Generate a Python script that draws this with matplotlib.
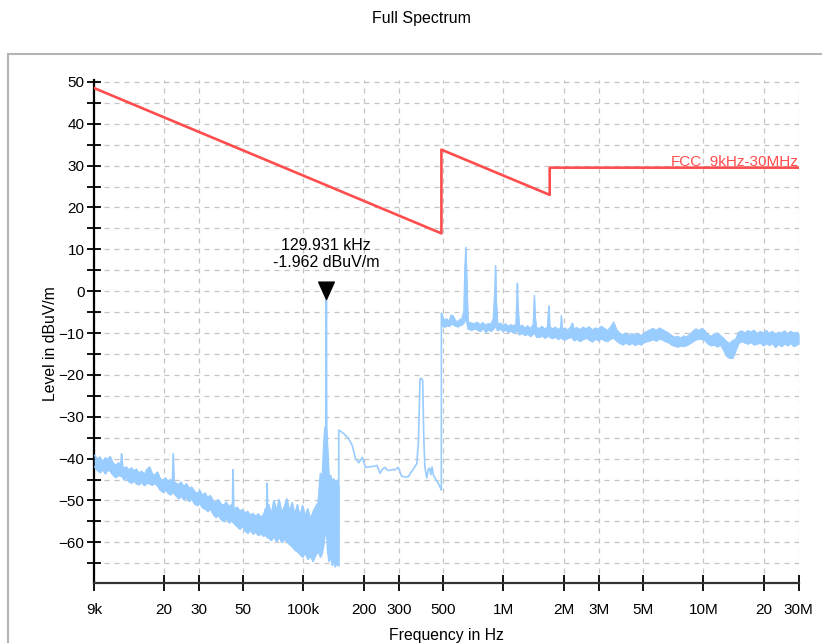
import numpy as np
import matplotlib
matplotlib.use('Agg')
from matplotlib import pyplot as plt
from matplotlib.path import Path
from matplotlib.patches import Rectangle
from matplotlib.ticker import NullLocator

plt.rcParams['font.family'] = ['Liberation Sans', 'DejaVu Sans']

RED = '#ff4d4d'
BLUE = '#99ccff'

# FCC 15.209 limit line (kHz, dBuV/m)
limitF = [9, 490, 490, 1705, 1705, 30000]
limitL = [48.5, 13.8, 33.8, 23.0, 29.5, 29.5]

# 9k - 150k band, upper / lower edge of the noise (kHz, dBuV/m)
bandAF = [9.05, 9.3, 9.6, 9.9, 10.2, 10.5, 10.8, 11.1, 11.5, 11.9, 12.2, 12.3, 12.45,
          12.6, 13.0, 13.4, 13.8, 14.2, 14.6, 15.0, 15.5, 16.0, 16.5, 17.0, 17.5, 18.0,
          18.6, 19.2, 19.8, 20.4, 21.0, 21.6, 22.1, 22.3, 22.5, 23.0, 23.7, 24.4, 25.2,
          26.0, 26.8, 27.6, 28.5, 29.4, 30.3, 31.2, 32.2, 33.2, 34.2, 35.3, 36.4, 37.5,
          38.7, 39.9, 41.1, 42.4, 43.6, 44.1, 44.4, 44.7, 45.2, 46.6, 48.0, 49.5, 51.0,
          52.6, 54.2, 55.9, 57.6, 59.4, 61.2, 63.1, 64.5, 65.3, 65.7, 66.1, 67.0, 69.0,
          71.1, 73.3, 75.5, 77.8, 80.2, 82.6, 85.1, 87.7, 90.4, 93.2, 96.0, 98.9, 101.9,
          105.0, 108.2, 111.5, 114.9, 118.4, 121.5, 124.0, 126.5, 128.0, 129.5, 129.931,
          130.4, 132.0, 134.0, 136.5, 139.0, 141.5, 144.0, 146.5, 149.0, 150.0]
bandAHi = [-39.2, -40.3, -39.6, -40.8, -39.8, -40.2, -39.5, -40.9, -41.6, -41.0, -41.5, -38.8, -41.8,
           -42.3, -42.0, -42.8, -42.2, -43.0, -42.5, -43.5, -43.0, -43.8, -42.6, -42.0, -43.6, -44.0,
           -43.2, -44.8, -45.2, -44.6, -45.5, -45.0, -45.4, -38.8, -45.6, -45.8, -46.3, -45.6, -46.7,
           -46.0, -47.2, -46.8, -47.8, -48.4, -47.6, -48.8, -48.2, -49.4, -48.8, -50.0, -50.5, -49.8,
           -50.8, -51.2, -50.4, -51.5, -51.0, -51.3, -42.6, -51.6, -52.0, -51.6, -52.5, -52.2, -53.0,
           -52.6, -53.5, -53.1, -53.8, -53.2, -54.0, -53.5, -52.0, -52.5, -45.9, -52.4, -51.0, -53.5,
           -50.0, -52.5, -49.8, -53.0, -51.5, -49.6, -52.8, -50.5, -53.5, -51.0, -54.0, -51.2, -53.8,
           -52.0, -54.5, -52.8, -51.5, -50.5, -43.5, -45.0, -36.0, -32.5, -33.0, -1.962,
           -32.6, -38.0, -44.5, -44.0, -45.5, -44.8, -46.0, -45.2, -47.0, -46.5]
bandALo = [-42.0, -42.8, -43.3, -42.5, -43.6, -42.6, -43.0, -43.8, -44.5, -43.9, -44.2, -44.0, -44.4,
           -45.0, -44.6, -45.5, -45.8, -45.2, -46.0, -46.2, -45.6, -46.4, -45.8, -46.0, -46.3, -45.8,
           -46.5, -47.5, -48.0, -47.4, -48.2, -48.6, -48.0, -47.9, -48.3, -48.8, -49.5, -48.9, -49.8,
           -49.2, -50.2, -49.5, -50.8, -51.2, -50.6, -51.7, -52.0, -52.6, -51.9, -53.2, -54.0, -53.5,
           -54.5, -55.0, -54.2, -55.3, -54.8, -55.1, -55.0, -55.3, -55.6, -56.2, -56.8, -56.0, -57.2,
           -57.8, -57.0, -58.0, -57.5, -58.3, -57.9, -58.5, -58.0, -58.6, -58.8, -58.7, -59.0, -59.5,
           -58.5, -59.8, -58.6, -60.0, -59.2, -59.8, -60.5, -61.0, -61.8, -62.2, -62.8, -63.5, -62.4,
           -64.0, -63.2, -64.5, -63.0, -62.0, -63.5, -62.5, -60.0, -58.0, -55.0, -50.0,
           -57.0, -62.0, -64.5, -63.0, -65.5, -64.0, -65.8, -64.8, -65.5, -65.5]

# 150k - 490k, smooth trace (kHz, dBuV/m)
midF = [150.0, 150.3, 158.9, 167, 175.3, 182.2, 189.4, 196.9, 204.6, 212, 220.3, 227, 233.2,
        241.7, 249, 256, 263, 271, 279, 286.8, 298, 310, 322, 335, 345, 355, 369, 376, 383,
        390, 395, 400, 405, 414, 422, 428, 434, 440, 447, 455, 462, 472.6, 482, 489.5, 490]
midL = [-65.5, -33.2, -34.0, -35.0, -36.8, -40.0, -41.0, -39.7, -42.1, -42.0, -41.9, -41.8, -41.6,
        -43.5, -42.5, -42.1, -42.8, -42.8, -42.6, -42.7, -42.1, -44.2, -44.4, -44.3, -43.3, -42.5,
        -41.2, -36.0, -21.0, -20.8, -21.4, -35.0, -42.0, -44.6, -42.5, -42.3, -43.8, -42.0, -44.0,
        -44.6, -45.2, -45.9, -46.8, -47.5, -5.3]

# 490k - 30M band, upper / lower edge (kHz, dBuV/m)
bandBF = [490.5, 505, 520, 535, 548, 560, 575, 590, 605, 620, 634, 642, 649, 656, 665, 690, 715,
          740, 765, 790, 815, 840, 865, 890, 905, 913, 920, 935, 965, 995, 1025, 1055, 1090, 1125,
          1155, 1168, 1174, 1180, 1200, 1240, 1280, 1320, 1365, 1410, 1428, 1440, 1460, 1510, 1560,
          1610, 1660, 1688, 1705, 1760, 1820, 1880, 1935, 1948, 1965, 2030, 2100, 2170, 2212, 2250,
          2330, 2410, 2500, 2590, 2680, 2780, 2880, 2980, 3090, 3200, 3310, 3430, 3560, 3680, 3810,
          3950, 4090, 4240, 4390, 4550, 4710, 4880, 5050, 5230, 5420, 5610, 5810, 6020, 6240, 6460,
          6690, 6930, 7180, 7440, 7700, 7980, 8260, 8560, 8860, 9180, 9510, 9850, 10200, 10560,
          10940, 11330, 11740, 12160, 12600, 13050, 13520, 14000, 14500, 15020, 15560, 16120, 16700,
          17300, 17920, 18560, 19230, 19920, 20630, 21370, 22140, 22930, 23750, 24600, 25480, 26400,
          27350, 28330, 29340, 30000]
bandBHi = [-5.3, -7.0, -6.6, -7.2, -5.7, -5.9, -7.0, -7.3, -6.8, -6.6, -4.8, 6.0, 10.5, 2.0, -7.3, -7.6, -7.8,
           -7.4, -8.0, -7.5, -8.2, -7.7, -7.9, -6.6, 0.0, 6.1, -2.0, -8.0, -7.6, -8.2, -7.8, -8.4, -8.0, -8.3,
           -7.8, -2.0, 1.9, -3.0, -8.5, -8.1, -8.8, -8.3, -8.9, -8.0, -1.0, -6.0, -8.7, -8.9, -8.4,
           -9.1, -8.6, -3.5, -8.5, -9.0, -8.6, -9.2, -8.7, -5.8, -9.0, -8.8, -9.3, -8.5, -7.6, -9.0,
           -8.7, -9.2, -8.6, -9.0, -8.5, -9.3, -8.8, -9.0, -8.4, -8.9, -9.4, -8.6, -7.4, -9.2, -10.0,
           -10.4, -10.0, -10.6, -10.1, -10.5, -10.2, -10.6, -10.0, -9.6, -9.2, -8.9, -9.4, -8.8, -9.2, -9.6,
           -10.0, -10.6, -11.0, -10.8, -11.2, -10.7, -10.9, -10.3, -9.6, -9.0, -9.4, -8.9, -9.5, -10.4,
           -10.8, -10.2, -10.0, -10.6, -11.2, -12.0, -12.5, -11.8, -11.5, -9.8, -9.5, -10.0, -9.4,
           -9.8, -9.3, -10.2, -9.6, -10.0, -9.4, -10.1, -9.6, -10.3, -9.8, -10.0, -9.5, -10.2,
           -9.6, -10.0, -9.8, -10.2]
bandBLo = [-8.0, -8.6, -8.2, -8.4, -7.8, -8.0, -8.3, -8.5, -8.2, -8.0, -7.5, -7.0, -6.5, -7.5, -9.0, -9.3, -9.0,
           -9.2, -9.6, -8.8, -9.8, -9.2, -9.6, -9.0, -8.5, -8.0, -8.8, -9.4, -9.0, -9.6, -9.2, -9.8, -9.5, -10.0,
           -9.6, -9.5, -9.5, -9.6, -10.4, -10.0, -10.6, -10.2, -10.8, -10.2, -10.0, -10.2, -10.9, -11.0, -10.6,
           -11.2, -10.8, -10.6, -11.0, -11.3, -10.9, -11.5, -11.0, -11.0, -11.4, -11.6, -11.2, -11.0, -11.2, -11.8,
           -11.4, -12.0, -11.5, -11.2, -11.6, -12.1, -11.4, -11.8, -11.3, -11.8, -12.0, -11.4, -11.2, -11.9, -12.4,
           -12.8, -12.3, -12.8, -12.4, -12.9, -12.5, -12.8, -12.2, -12.0, -11.8, -11.5, -11.9, -11.4, -11.6, -12.0,
           -12.3, -12.8, -13.1, -13.3, -13.0, -13.2, -12.9, -12.5, -12.0, -11.6, -11.4, -11.5, -11.8, -12.6,
           -13.0, -12.8, -13.3, -12.8, -14.0, -15.5, -16.0, -16.0, -14.2, -12.4, -12.0, -12.3, -12.6,
           -12.2, -12.8, -12.6, -12.3, -13.0, -12.5, -12.9, -12.4, -13.4, -12.6, -13.2, -12.5, -13.0,
           -12.4, -13.2, -12.8, -12.6]

# Peak marker
peakF = 129.931
peakL = -1.962

xTicks = [9e3, 20e3, 30e3, 50e3, 100e3, 200e3, 300e3, 500e3, 1e6, 2e6, 3e6, 5e6, 10e6, 20e6, 30e6]
xTickLabels = ['9k', '20', '30', '50', '100k', '200', '300', '500', '1M', '2M', '3M', '5M', '10M', '20', '30M']


def main():
    fig = plt.figure(figsize=(8.22, 6.43), dpi=100)
    ax = fig.add_axes([0.1147, 0.0928, 0.857, 0.7825])

    # frame around the plot area
    fig.patches.append(Rectangle((8 / 822, -0.05), 1.0, 0.916 + 0.05, transform=fig.transFigure,
                                 fill=False, edgecolor='#b4b4b4', linewidth=1.5))
    fig.text(0.513, 1 - 18 / 643, 'Full Spectrum', ha='center', va='center', fontsize=11.5)

    kHz = 1e3
    fa = np.array(bandAF) * kHz
    ax.fill_between(fa, bandALo, bandAHi, color=BLUE, linewidth=0.8, zorder=3)
    ax.plot(fa, bandAHi, color=BLUE, linewidth=1.0, zorder=3)
    ax.plot(fa, bandALo, color=BLUE, linewidth=1.0, zorder=3)
    ax.plot(np.array(midF) * kHz, midL, color=BLUE, linewidth=1.2, zorder=3)
    fb = np.array(bandBF) * kHz
    ax.fill_between(fb, bandBLo, bandBHi, color=BLUE, linewidth=0.6, zorder=3)
    ax.plot(fb, bandBHi, color=BLUE, linewidth=0.9, zorder=3)
    ax.plot(fb, bandBLo, color=BLUE, linewidth=0.9, zorder=3)

    ax.plot(np.array(limitF) * kHz, limitL, color=RED, linewidth=1.9, zorder=4)
    ax.text(limitF[-1] * kHz, limitL[-1], 'FCC_9kHz-30MHz', color=RED, ha='right', va='bottom',
            fontsize=11, zorder=5)

    # marker triangle, tip on the peak
    tri = Path([(-0.45, 1.0), (0.45, 1.0), (0.0, 0.0), (-0.45, 1.0)],
               [Path.MOVETO, Path.LINETO, Path.LINETO, Path.CLOSEPOLY])
    ax.plot([peakF * kHz], [peakL], marker=tri, markersize=25, color='black', linestyle='none', zorder=6)
    ax.annotate('%.3f kHz\n%.3f dBuV/m' % (peakF, peakL), xy=(peakF * kHz, peakL), xytext=(0, 21),
                textcoords='offset points', ha='center', va='bottom', fontsize=11.5, linespacing=1.15)

    ax.set_xscale('log')
    ax.set_xlim(9e3, 30e6)
    ax.set_ylim(-69.8, 50.4)
    ax.set_xticks(xTicks)
    ax.set_xticklabels(xTickLabels)
    ax.xaxis.set_minor_locator(NullLocator())
    ax.set_yticks(np.arange(-60, 51, 10))
    ax.set_yticks(np.arange(-65, 51, 10), minor=True)

    ax.grid(True, which='major', axis='x', color='#c4c4c4', linestyle=(0, (4, 4)), linewidth=0.9)
    ax.grid(True, which='both', axis='y', color='#c4c4c4', linestyle=(0, (4, 4)), linewidth=0.9)
    ax.set_axisbelow(True)

    for s in ['top', 'right']:
        ax.spines[s].set_visible(False)
    ax.spines['left'].set_linewidth(1.6)
    ax.spines['left'].set_color('black')
    ax.spines['bottom'].set_linewidth(1.6)
    ax.spines['bottom'].set_color('#333333')

    ax.tick_params(axis='x', which='major', direction='inout', length=12, width=1.3, pad=8, labelsize=11)
    ax.tick_params(axis='y', which='both', direction='inout', length=10, width=1.3, pad=2, labelsize=11)

    ax.set_ylabel('Level in dBuV/m', fontsize=11.3)
    ax.yaxis.set_label_coords(-0.0515, 0.476)
    ax.set_xlabel('Frequency in Hz', fontsize=11.3, va='top')
    ax.xaxis.set_label_coords(0.5, -0.089)

    fig.savefig('out.png', dpi=100)


main()
